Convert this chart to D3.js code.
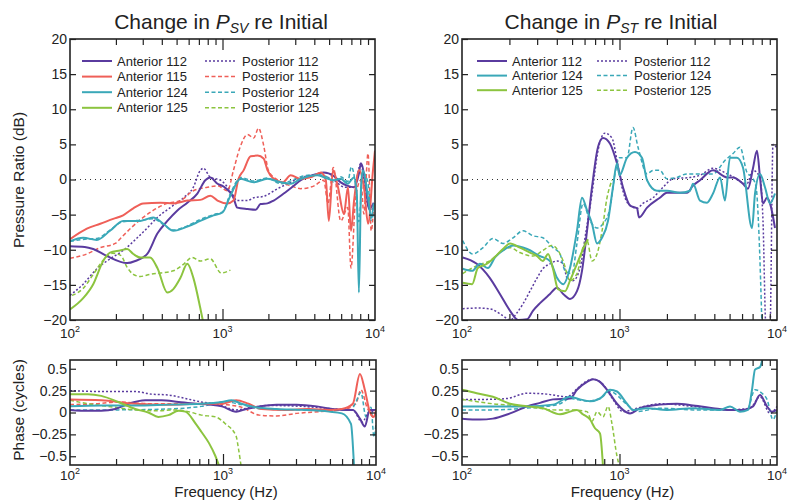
<!DOCTYPE html>
<html>
<head>
<meta charset="utf-8">
<script src="https://cdn.jsdelivr.net/npm/d3@7"></script>
<style>
  body { margin: 0; background: #fff; }
  svg text { font-family: "Liberation Sans", Arial, sans-serif; fill: #222; }
</style>
</head>
<body>
<svg id="chart" width="790" height="500"></svg>
<script>
// ---- data: [frequency Hz, value] ----
const dbTicks = [-20, -15, -10, -5, 0, 5, 10, 15, 20]
const phaseTicks = [-0.5, -0.25, 0, 0.25, 0.5]
const decadeTicks = [100, 1000, 10000]
const decadeLabels = ["2", "3", "4"]

// change in P_SV (dB)
const psvAnt112 = [[100,-9.5],[125,-9.6],[142,-9.9],[175,-10.9],[237,-11.9],[268,-11.6],[321,-10.6],[374,-7.7],[435,-5.9],[506,-4.4],[588,-3.3],[684,-2.0],[771,-0.1],[832,0.3],[927,-0.6],[1015,-1.0],[1180,-2.6],[1250,-4.0],[1460,-4.2],[1650,-4.3],[1775,-3.5],[1970,-3.4],[2165,-3.0],[2520,-2.0],[2930,-0.9],[3260,-0.1],[4200,0.8],[4610,1.0],[5360,0.5],[5960,-0.4],[6630,-0.9],[7270,-1.1],[7840,0.8],[8080,2.3],[8720,-1.1],[9120,-4.2],[9820,-3.3]]
const psvPost112 = [[100,-16.5],[122,-14.9],[150,-12.7],[183,-11.3],[223,-10.1],[276,-8.3],[321,-6.9],[374,-5.4],[455,-4.0],[555,-2.6],[644,-1.1],[715,1.3],[750,1.6],[832,0.3],[970,-0.1],[1127,-1.6],[1250,-3.0],[1460,-3.0],[1600,-2.6],[1860,-2.4],[2300,-1.3],[2800,-0.4],[3260,0.3],[4200,0.6],[5360,-0.1],[6320,-1.1],[7270,-1.1],[8080,2.3],[8720,-2.6],[9450,-4.4],[9820,-3.4]]
const psvAnt115 = [[100,-8.5],[129,-7.0],[158,-6.3],[192,-5.6],[223,-5.1],[260,-4.1],[302,-3.4],[391,-3.3],[476,-3.4],[588,-3.0],[715,-2.9],[832,-2.3],[927,-3.0],[1078,-3.4],[1180,-3.0],[1274,0.1],[1375,1.3],[1530,3.3],[1700,3.4],[1860,3.0],[1975,1.3],[2165,0.1],[2480,-0.4],[2800,0.6],[3260,0.1],[3790,0.3],[4420,1.0],[4760,-0.1],[4980,-5.9],[5300,1.3],[5720,-1.1],[6250,-4.9],[6650,-1.1],[6960,-7.3],[7290,-3.0],[7860,1.3],[8460,-1.1],[9010,-6.3],[9700,1.3],[10000,4.1]]
const psvPost115 = [[100,-11.2],[129,-10.6],[158,-9.7],[198,-9.1],[223,-8.0],[260,-6.6],[302,-5.4],[351,-4.4],[435,-3.4],[530,-3.0],[644,-1.6],[797,-1.1],[927,-0.9],[1078,-1.6],[1180,1.3],[1295,4.4],[1460,6.4],[1600,5.9],[1725,7.3],[1860,4.9],[2000,1.3],[2300,-0.1],[2800,-0.9],[3260,-1.3],[3990,-0.9],[4610,-0.1],[4920,-3.4],[5330,1.7],[5960,-5.9],[6630,-4.0],[6960,-12.6],[7470,-2.6],[8080,-0.1],[8450,-4.9],[9000,3.7],[9450,-7.3],[9820,-3.4]]
const psvAnt124 = [[100,-8.8],[122,-8.3],[150,-8.6],[183,-7.3],[223,-5.9],[289,-5.9],[351,-5.4],[409,-6.3],[476,-7.3],[588,-6.7],[715,-5.9],[872,-5.1],[1000,-4.7],[1127,-2.3],[1313,0.1],[1600,-0.4],[1975,0.1],[2410,-0.4],[2800,-0.6],[3260,0.1],[4200,0.6],[4920,0.1],[5360,-0.1],[5960,0.1],[6630,-0.6],[7270,0.3],[7600,-2.0],[7840,-16.1],[8100,-1.0],[8330,1.3],[9000,-2.6],[9450,-5.4],[9820,-3.4]]
const psvPost124 = [[100,-8.8],[125,-8.5],[150,-8.4],[183,-7.2],[223,-6.0],[289,-5.8],[351,-5.6],[409,-6.4],[476,-7.2],[588,-6.6],[715,-5.7],[872,-5.0],[1000,-4.6],[1127,-2.0],[1313,0.3],[1600,-0.2],[1975,0.2],[2410,-0.6],[2800,-0.2],[3260,0.4],[4200,0.7],[4920,0.3],[5360,-0.4],[5960,0.4],[6630,-0.3],[7000,1.8],[7470,-1.0],[7840,-6.0],[8330,1.0],[9000,-0.5],[9450,-5.8],[9820,-4.5]]
const psvAnt125 = [[100,-18.5],[122,-16.9],[142,-14.9],[165,-11.6],[183,-10.4],[213,-10.1],[237,-9.9],[260,-10.6],[289,-11.1],[335,-11.1],[374,-12.6],[435,-16.1],[476,-15.6],[530,-14.0],[588,-12.0],[644,-14.0],[715,-18.3],[750,-20.5]]
const psvPost125 = [[103,-16.5],[122,-15.5],[142,-13.5],[165,-11.5],[190,-10.5],[215,-10.8],[237,-12.5],[260,-13.5],[289,-13.8],[335,-13.5],[391,-13.3],[476,-13.0],[560,-12.0],[630,-11.1],[715,-11.6],[832,-11.3],[980,-13.3],[1127,-12.9]]

// change in P_ST (dB)
const pstAnt112 = [[101,-11.1],[124,-12.0],[150,-14.0],[174,-16.3],[202,-18.7],[227,-20.0],[259,-19.9],[282,-18.7],[313,-17.6],[362,-16.3],[401,-15.4],[439,-16.3],[485,-17.0],[537,-15.9],[578,-13.0],[622,-7.3],[669,-1.1],[730,4.6],[786,5.9],[871,5.1],[964,2.3],[1052,-1.1],[1166,-3.7],[1292,-4.1],[1330,-5.4],[1496,-4.0],[1805,-2.6],[2000,-1.9],[2685,-1.9],[2920,-0.9],[3245,-0.1],[3925,1.3],[4820,0.3],[5260,0.3],[6080,-0.6],[6540,-1.3],[7040,1.6],[7460,4.1],[7800,0.3],[8150,-3.4],[8640,-2.6],[9030,-3.4],[9710,-6.9]]
const pstPost112 = [[101,-18.4],[124,-18.3],[150,-18.4],[182,-19.4],[202,-20],[223,-19],[244,-17.7],[270,-15.9],[300,-14],[326,-12.7],[362,-12.0],[401,-11.6],[439,-12],[464,-14.0],[506,-14.4],[562,-12.6],[604,-8.3],[669,-2.0],[730,4.1],[808,6.6],[896,5.9],[964,2.7],[1037,-1.1],[1132,-3.4],[1292,-4.1],[1409,-3.4],[1632,-2.6],[1889,-1.1],[2186,0.1],[2803,0.3],[3245,0.6],[3925,1.6],[5030,0.6],[6450,-0.6],[7040,1.3],[7800,0.3],[8150,-5.9],[8510,-21],[9030,-21],[9430,5.0],[10000,4.5]]
const pstAnt124 = [[101,-12.7],[116,-13],[130,-12.0],[146,-12.6],[162,-11.1],[182,-10.1],[211,-9.4],[259,-9.9],[313,-10.9],[362,-11.6],[401,-14.0],[439,-14.9],[485,-12.6],[537,-7.3],[578,-2.6],[622,-4.4],[669,-6.3],[720,-9.1],[774,-8.3],[845,-5.9],[909,-1.1],[964,2.3],[1000,0.6],[1116,3.1],[1254,3.9],[1389,3.1],[1496,-0.1],[1730,-1.6],[2000,-1.6],[2420,-1.9],[2803,-1.6],[2930,-0.6],[3245,-3.0],[3594,-3.3],[3925,-2.0],[4350,0.3],[4670,-3.0],[5030,3.1],[5570,3.1],[6080,1.7],[6940,-6.9],[7250,-2.0],[7800,0.8],[8390,-1.1],[9030,-3.4],[9710,-2.0]]
const pstPost124 = [[101,-8.7],[117,-10.6],[136,-9.7],[157,-8.4],[182,-9.1],[211,-8.3],[244,-7.3],[282,-8.0],[326,-8.3],[378,-9.7],[419,-10.6],[451,-13],[499,-13.4],[537,-9.1],[587,-3.4],[650,-5.9],[720,-6.9],[786,-6.3],[871,-4.0],[936,0.8],[1000,3.1],[1116,3.1],[1218,7.4],[1311,4.6],[1496,0.8],[1632,1.3],[1805,1.3],[2000,0.1],[2317,0.3],[2685,0.8],[3245,0.8],[3925,0.8],[4670,2.7],[5260,3.7],[5820,4.6],[6450,1.0],[6940,0.3],[7360,-1],[7690,-8],[8030,-21]]
const pstAnt125 = [[101,-14.7],[116,-14.9],[126,-12.6],[144,-12.0],[157,-11.3],[182,-9.9],[202,-9.1],[233,-9.7],[270,-10.4],[300,-10.9],[326,-11.6],[352,-10.6],[378,-12.7],[407,-15.6],[451,-15.9],[485,-14.4],[537,-12.0],[585,-10.0],[631,-8.5]]
const pstPost125 = [[101,-13.4],[116,-12.6],[134,-12.0],[150,-11.6],[174,-10.4],[202,-9.7],[233,-10.4],[282,-10.9],[326,-10.1],[373,-9.4],[407,-10.1],[439,-11.6],[485,-14.4],[537,-13.4],[585,-9.7],[622,-8.7],[669,-11.6],[720,-10.6],[775,-7.3],[833,-2.6],[896,-0.1]]

// phase, P_SV (cycles)
const phSvAnt112 = [[100,0.03],[131,0.02],[160,0.02],[198,0.04],[241,0.10],[311,0.14],[397,0.14],[513,0.12],[664,0.10],[810,0.09],[983,0.07],[1218,0.01],[1417,0.04],[1724,0.07],[2240,0.09],[3030,0.09],[4100,0.07],[5190,0.04],[6420,0.03],[7060,0.03],[7850,-0.07],[8450,-0.16],[9100,0.03],[10000,0.03]]
const phSvPost112 = [[100,0.25],[160,0.24],[267,0.24],[340,0.21],[440,0.20],[568,0.16],[722,0.12],[935,0.09],[1218,0.03],[1540,0.06],[1990,0.08],[3270,0.07],[5470,0.04],[7060,0.03],[8100,-0.11],[9100,0.01],[10000,0.01]]
const phSvAnt115 = [[100,0.15],[160,0.14],[267,0.10],[440,0.09],[722,0.10],[983,0.10],[1218,0.14],[1470,0.10],[1790,0.04],[2570,0.03],[3640,0.04],[4920,0.03],[5980,0.04],[7060,0.10],[7850,0.44],[8450,0.26],[9100,0.01],[9700,-0.05],[10000,0.03]]
const phSvPost115 = [[100,0.09],[146,0.10],[207,0.12],[340,0.10],[568,0.10],[810,0.10],[1038,0.09],[1322,0.06],[1724,-0.03],[2240,-0.04],[3030,-0.01],[4230,0.01],[5980,0.03],[7390,0.10],[7970,0.26],[8730,0.06],[9700,-0.07]]
const phSvAnt124 = [[100,0.07],[160,0.08],[267,0.08],[440,0.09],[722,0.10],[983,0.12],[1137,0.14],[1322,0.10],[1634,0.06],[2240,0.04],[3270,0.03],[4920,0.01],[5980,-0.01],[6860,-0.13],[7200,-0.65]]
const phSvPost124 = [[100,0.03],[207,0.03],[440,0.04],[722,0.07],[1038,0.12],[1322,0.09],[1790,0.04],[3270,0.03],[5470,0.03],[6860,0.03],[7390,0.12],[7970,0.23],[8600,-0.05],[9270,0.06],[9700,-0.28],[10000,-0.13]]
const phSvAnt125 = [[100,0.21],[131,0.21],[160,0.19],[207,0.12],[267,0.04],[325,0.00],[378,-0.05],[440,-0.03],[513,0.02],[568,0.01],[664,-0.13],[722,-0.22],[810,-0.35],[893,-0.50],[960,-0.65]]
const phSvPost125 = [[100,0.14],[131,0.10],[177,0.07],[267,0.03],[378,0.02],[488,0.03],[594,0.01],[722,-0.03],[893,-0.05],[1038,-0.13],[1218,-0.27],[1264,-0.42],[1322,-0.65]]

// phase, P_ST (cycles)
const phStAnt112 = [[100,-0.07],[130,-0.08],[157,-0.07],[202,-0.01],[259,0.07],[313,0.11],[378,0.15],[485,0.16],[537,0.26],[622,0.35],[679,0.38],[752,0.35],[833,0.26],[964,0.10],[1052,0.03],[1166,-0.01],[1349,0.05],[1805,0.09],[2315,0.10],[2930,0.08],[3925,0.05],[4820,0.03],[6080,0.03],[7040,0.07],[7800,0.20],[8640,0.07],[9290,0.01],[10000,0.03]]
const phStPost112 = [[100,0.15],[144,0.15],[193,0.16],[259,0.22],[346,0.21],[464,0.18],[537,0.27],[622,0.36],[679,0.38],[786,0.32],[909,0.15],[1052,0.01],[1292,0.05],[1805,0.10],[2930,0.07],[4820,0.03],[6740,0.05],[7800,0.18],[9030,-0.01],[10000,0.07]]
const phStAnt124 = [[100,0.07],[157,0.07],[259,0.07],[378,0.09],[485,0.18],[562,0.15],[650,0.13],[752,0.16],[871,0.26],[964,0.24],[1116,0.10],[1218,0.03],[1496,0.05],[2000,0.03],[2930,0.05],[4350,0.03],[5030,0.07],[5820,0.01],[6550,0.03],[6940,0.26],[7250,0.49],[7800,0.52],[8150,0.64]]
const phStPost124 = [[100,0.03],[157,0.03],[259,0.05],[346,0.07],[419,0.10],[485,0.16],[622,0.13],[752,0.16],[871,0.24],[1116,0.09],[1292,0.01],[1805,0.05],[2930,0.03],[4820,0.03],[6450,0.03],[7250,0.26],[8030,0.22],[8640,0.15],[9430,-0.08],[10000,0.03]]
const phStAnt125 = [[100,0.26],[124,0.22],[157,0.18],[202,0.10],[259,0.07],[326,0.05],[419,-0.02],[485,0.01],[537,0.03],[585,-0.02],[650,-0.08],[699,-0.18],[752,-0.24],[786,-0.62]]
const phStPost125 = [[100,0.15],[157,0.10],[259,0.07],[378,0.03],[485,0.03],[622,0.01],[669,-0.10],[720,0.01],[786,-0.05],[846,0.07],[896,-0.13],[964,-0.50],[1000,-0.62]]

const colors = { 112: "#5a3b9f", 115: "#ef5f58", 124: "#3aa8b8", 125: "#8cc43f" }

const svg = d3.select("#chart")

const panels = [
  { id: "psv", x: [70, 375], y: [39, 320], domain: [-20, 20], ticks: dbTicks, zero: true, labelDy: 18,
    lines: [[112, psvAnt112, psvPost112], [115, psvAnt115, psvPost115], [124, psvAnt124, psvPost124], [125, psvAnt125, psvPost125]],
    legend: { x1: 82, x2: 205, rowY: 61, dy: 15.6 }, title: ["SV", 221] },
  { id: "pst", x: [462, 777], y: [39, 320], domain: [-20, 20], ticks: dbTicks, zero: true, labelDy: 18,
    lines: [[112, pstAnt112, pstPost112], [124, pstAnt124, pstPost124], [125, pstAnt125, pstPost125]],
    legend: { x1: 477, x2: 597, rowY: 61, dy: 14.6 }, title: ["ST", 611] },
  { id: "phsv", x: [70, 376], y: [360, 465], domain: [-0.6, 0.6], ticks: phaseTicks, labelDy: 15,
    lines: [[112, phSvAnt112, phSvPost112], [115, phSvAnt115, phSvPost115], [124, phSvAnt124, phSvPost124], [125, phSvAnt125, phSvPost125]] },
  { id: "phst", x: [462, 777], y: [360, 465], domain: [-0.6, 0.6], ticks: phaseTicks, labelDy: 15,
    lines: [[112, phStAnt112, phStPost112], [124, phStAnt124, phStPost124], [125, phStAnt125, phStPost125]] }
]

const minorTicks = []
;[100, 1000].forEach(d => { for (let k = 2; k <= 9; k++) minorTicks.push(d * k) })

panels.forEach(p => {
  const x = d3.scaleLog().domain([100, 10000]).range(p.x)
  const y = d3.scaleLinear().domain(p.domain).range([p.y[1], p.y[0]])
  const g = svg.append("g")
  const w = p.x[1] - p.x[0], h = p.y[1] - p.y[0]

  g.append("clipPath").attr("id", "clip-" + p.id)
    .append("rect").attr("x", p.x[0]).attr("y", p.y[0]).attr("width", w).attr("height", h)

  if (p.zero) {
    g.append("line")
      .attr("x1", p.x[0]).attr("x2", p.x[1]).attr("y1", y(0)).attr("y2", y(0))
      .attr("stroke", "#333").attr("stroke-width", 1).attr("stroke-dasharray", "1,4")
  }

  const line = d3.line().x(d => x(d[0])).y(d => y(d[1])).curve(d3.curveMonotoneX)
  const plot = g.append("g").attr("clip-path", "url(#clip-" + p.id + ")")
  p.lines.forEach(([id, ant, post]) => {
    plot.append("path").attr("d", line(post)).attr("fill", "none")
      .attr("stroke", colors[id]).attr("stroke-width", 1.5)
      .attr("stroke-dasharray", id === 112 ? "2,2" : "4,2.5")
  })
  p.lines.forEach(([id, ant, post]) => {
    plot.append("path").attr("d", line(ant)).attr("fill", "none")
      .attr("stroke", colors[id]).attr("stroke-width", 2)
  })

  // axes, ticks pointing inward
  const noLabel = () => ""
  g.append("g").attr("transform", `translate(0,${p.y[1]})`)
    .call(d3.axisBottom(x).tickValues(minorTicks).tickSize(-6).tickFormat(noLabel))
  g.append("g").attr("transform", `translate(0,${p.y[0]})`)
    .call(d3.axisTop(x).tickValues(minorTicks).tickSize(-6).tickFormat(noLabel))
  g.append("g").attr("transform", `translate(0,${p.y[1]})`)
    .call(d3.axisBottom(x).tickValues([1000]).tickSize(-11).tickFormat(noLabel))
  g.append("g").attr("transform", `translate(0,${p.y[0]})`)
    .call(d3.axisTop(x).tickValues([1000]).tickSize(-11).tickFormat(noLabel))
  g.append("g").attr("transform", `translate(${p.x[0]},0)`)
    .call(d3.axisLeft(y).tickValues(p.ticks).tickSize(-6).tickPadding(3)
      .tickFormat(d => d3.format("")(d)))
  g.append("g").attr("transform", `translate(${p.x[1]},0)`)
    .call(d3.axisRight(y).tickValues(p.ticks).tickSize(-6).tickFormat(noLabel))
  g.selectAll(".domain").remove()
  g.selectAll(".tick line").attr("stroke", "#222").attr("stroke-width", 1.2)
  g.selectAll(".tick text").attr("font-size", 14).attr("fill", "#222")
    .attr("font-family", "'Liberation Sans', Arial, sans-serif")

  g.append("rect").attr("x", p.x[0]).attr("y", p.y[0]).attr("width", w).attr("height", h)
    .attr("fill", "none").attr("stroke", "#222").attr("stroke-width", 1.6)

  // decade labels 10^n
  decadeTicks.forEach((d, i) => {
    const t = g.append("text").attr("x", x(d)).attr("y", p.y[1] + p.labelDy)
      .attr("text-anchor", "middle").attr("font-size", 13.5)
    t.append("tspan").text("10")
    t.append("tspan").attr("dy", -6).attr("font-size", 9).text(decadeLabels[i])
  })

  if (p.legend) {
    const L = p.legend
    p.lines.forEach(([id], i) => {
      const ly = L.rowY + i * L.dy
      g.append("line").attr("x1", L.x1).attr("x2", L.x1 + 30).attr("y1", ly).attr("y2", ly)
        .attr("stroke", colors[id]).attr("stroke-width", 2)
      g.append("text").attr("x", L.x1 + 35).attr("y", ly + 4.5).attr("font-size", 13)
        .text("Anterior " + id)
      g.append("line").attr("x1", L.x2).attr("x2", L.x2 + 30).attr("y1", ly).attr("y2", ly)
        .attr("stroke", colors[id]).attr("stroke-width", 1.5)
        .attr("stroke-dasharray", id === 112 ? "2,2" : "4,2.5")
      g.append("text").attr("x", L.x2 + 37).attr("y", ly + 4.5).attr("font-size", 13)
        .text("Posterior " + id)
    })
  }

  if (p.title) {
    const t = svg.append("text").attr("x", p.title[1]).attr("y", 29)
      .attr("text-anchor", "middle").attr("font-size", 21)
    t.append("tspan").text("Change in ")
    t.append("tspan").attr("font-style", "italic").text("P")
    t.append("tspan").attr("font-style", "italic").attr("font-size", 14).attr("dy", 4).text(p.title[0])
    t.append("tspan").attr("dy", -4).text(" re Initial")
  }

  if (p.id.startsWith("ph")) {
    svg.append("text").attr("x", (p.x[0] + p.x[1]) / 2 + 3).attr("y", 497)
      .attr("text-anchor", "middle").attr("font-size", 15).text("Frequency (Hz)")
  }
})

svg.append("text").attr("transform", "translate(24,180) rotate(-90)")
  .attr("text-anchor", "middle").attr("font-size", 15.5).text("Pressure Ratio (dB)")
svg.append("text").attr("transform", "translate(24,410) rotate(-90)")
  .attr("text-anchor", "middle").attr("font-size", 15.5).text("Phase (cycles)")
</script>
</body>
</html>
